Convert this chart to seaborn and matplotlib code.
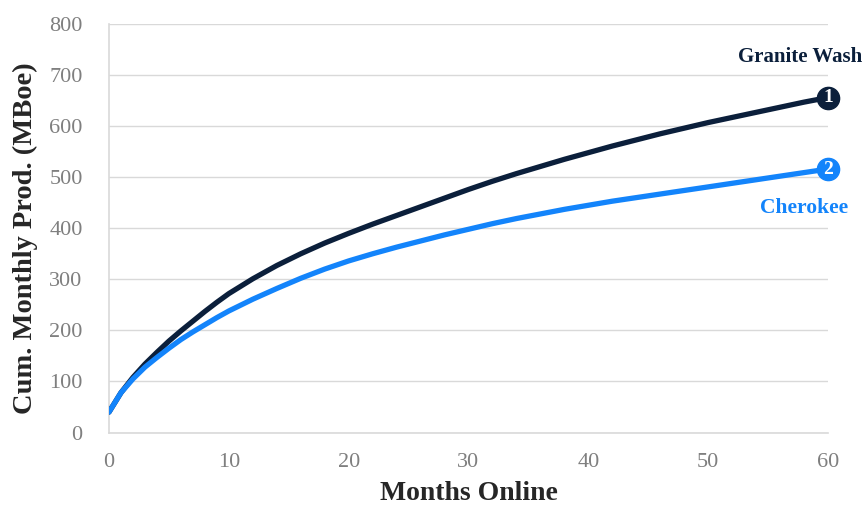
import matplotlib
matplotlib.use("Agg")
import matplotlib.pyplot as plt
import seaborn as sns
import pandas as pd

# Cumulative production type curves (MBoe) by months online
months = [0, 1, 2, 3, 4, 5, 6, 7, 8, 9, 10, 12, 14, 16, 18, 20, 22, 24, 26, 28,
          30, 32, 34, 36, 38, 40, 42, 44, 46, 48, 50, 52, 54, 56, 58, 60]
granite_wash = [40, 78, 108, 134, 157, 179, 199, 218, 237, 255, 272, 301, 327, 350, 371,
                390, 408, 425, 442, 459, 476, 492, 507, 521, 535, 548, 561, 573, 585,
                596, 607, 617, 627, 637, 647, 656]
cherokee = [40, 78, 105, 128, 147, 165, 182, 197, 211, 225, 238, 261, 282, 302, 320,
            336, 350, 363, 375, 387, 398, 409, 419, 428, 437, 445, 453, 460, 467,
            474, 481, 488, 495, 502, 509, 516]

series_names = ["Granite Wash", "Cherokee"]
series_ranks = ["1", "2"]
x_ticks = [0, 10, 20, 30, 40, 50, 60]
y_ticks = [0, 100, 200, 300, 400, 500, 600, 700, 800]

NAVY = "#0b1f3b"
BLUE = "#1384fb"
palette = {"Granite Wash": NAVY, "Cherokee": BLUE}

df = pd.concat([
    pd.DataFrame({"Months": months, "Prod": granite_wash, "Play": "Granite Wash"}),
    pd.DataFrame({"Months": months, "Prod": cherokee, "Play": "Cherokee"}),
])

sns.set_theme(style="white")
plt.rcParams["font.family"] = ["Liberation Serif", "DejaVu Serif"]

fig = plt.figure(figsize=(8.64, 5.08), dpi=100)
ax = fig.add_axes([109 / 864, 1 - 432.5 / 508, (828 - 109) / 864, (432.5 - 24) / 508])

sns.lineplot(data=df, x="Months", y="Prod", hue="Play", palette=palette,
             linewidth=3.8, legend=False, ax=ax, zorder=3)

ax.set_xlim(0, 60)
ax.set_ylim(0, 800)
ax.set_xticks(x_ticks)
ax.set_yticks(y_ticks)
ax.yaxis.grid(True, color="#d9d9d9", linewidth=1.0)
ax.xaxis.grid(False)
for side in ["top", "right"]:
    ax.spines[side].set_visible(False)
for side in ["left", "bottom"]:
    ax.spines[side].set_color("#d9d9d9")
    ax.spines[side].set_linewidth(1.2)
ax.tick_params(axis="y", length=0, pad=19, labelsize=16, labelcolor="#7f7f7f")
ax.tick_params(axis="x", length=0, pad=15, labelsize=16, labelcolor="#7f7f7f")
ax.set_xlabel("Months Online", fontsize=20, fontweight="bold", color="#262626", labelpad=6)
ax.set_ylabel("Cum. Monthly Prod. (MBoe)", fontsize=20.5, fontweight="bold",
              color="#262626")
ax.yaxis.set_label_coords(-71 / 719, 0.475)

# Ranked end-point badges
ends = {"Granite Wash": granite_wash[-1], "Cherokee": cherokee[-1]}
for name, rank in zip(series_names, series_ranks):
    col = palette[name]
    ax.plot(months[-1], ends[name], "o", ms=16, color=col, zorder=5, clip_on=False)
    ax.text(months[-1], ends[name], rank, color="white", fontsize=14, fontweight="bold",
            ha="center", va="center", zorder=6, clip_on=False)

ax.text(862 / 864, 1 - 57 / 508, "Granite Wash", transform=fig.transFigure,
        ha="right", va="center", fontsize=15, fontweight="bold", color=NAVY)
ax.text(848 / 864, 1 - 208 / 508, "Cherokee", transform=fig.transFigure,
        ha="right", va="center", fontsize=15.5, fontweight="bold", color=BLUE)

fig.savefig("out.png", dpi=100)
